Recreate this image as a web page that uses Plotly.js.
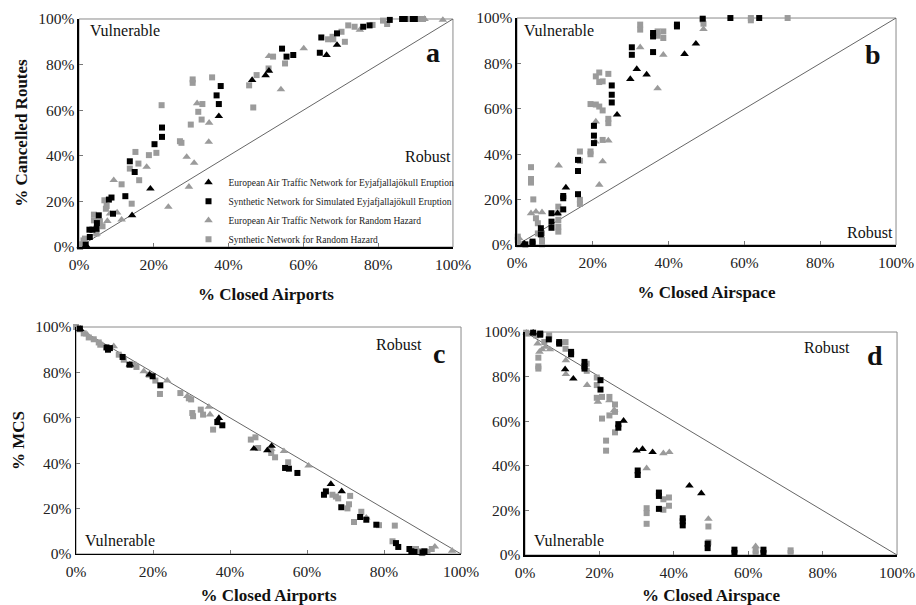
<!DOCTYPE html>
<html><head><meta charset="utf-8">
<script src="https://cdn.plot.ly/plotly-3.0.1.min.js"></script>
<style>html,body{margin:0;padding:0;background:#fff}#chart{width:916px;height:605px}</style>
</head><body><div id="chart"></div>
<script>
// ---- series names ----
const seriesNames = [
  'European Air Traffic Network for Eyjafjallajökull Eruption',
  'Synthetic Network for Simulated Eyjafjallajökull Eruption',
  'European Air Traffic Network for Random Hazard',
  'Synthetic Network for Random Hazard'
];
const tickVals = [0, 20, 40, 60, 80, 100];
const tickLabels = ['0%', '20%', '40%', '60%', '80%', '100%'];

// ---- reference diagonals ----
const diagUpX = [0, 100], diagUpY = [0, 100];
const diagDownX = [0, 100], diagDownY = [100, 0];

// ---- panel a: % closed airports vs % cancelled routes ----
const aEurEyjX = [1.9,14.2,19.1,37.4,46.3,49.9,50.8,66.2,69.0];
const aEurEyjY = [0.7,13.9,25.6,57.4,73.2,75.3,77.3,84.2,88.6];
const aSynEyjX = [1.8,2.9,2.8,3.6,4.7,4.8,5.3,8.0,8.7,9.1,12.4,13.6,14.9,20.2,22.2,22.2,36.8,37.4,37.9,54.3,55.5,57.3,64.4,64.8,69.0,76.0,77.7,83.1,86.4,87.1,89.3,89.8];
const aSynEyjY = [1.0,4.4,7.6,7.6,8.0,10.5,13.9,20.8,21.7,14.6,22.3,37.6,32.9,45.1,52.4,48.3,66.5,62.7,70.6,87.0,83.5,84.2,85.2,91.9,93.7,96.6,97.2,99.6,100,100,100,100];
const aEurRndX = [0.3,1.2,4.7,7.6,8.3,9.3,10.2,11.4,18.1,23.9,28.8,29.4,30.8,31.6,34.7,34.8,50.8,54.0,60.1,75.1,92.4,97.3];
const aEurRndY = [0.3,2.2,5.9,11.4,14.6,29.3,15.1,12.0,35.1,17.6,39.5,26.4,36.9,63.0,46.1,54.5,83.7,69.1,87.1,95.2,100,99.6];
const aSynRndX = [0.3,0.7,1.2,1.6,4.0,4.0,4.7,5.6,6.3,6.8,7.2,7.4,11.4,13.6,14.1,15.1,15.9,16.1,18.7,20.7,22.1,27.0,27.4,29.9,30.4,30.4,31.9,32.8,33.0,35.6,45.5,46.6,47.5,50.7,51.9,55.1,66.6,67.8,68.0,70.2,71.1,72.0,73.7,78.5,81.3,82.4,88.4,90.7,92.0];
const aSynRndY = [0,1.2,2.9,3.7,11.7,14.2,5.9,11.3,9.1,20.5,16.8,18.0,27.5,34.4,19.0,41.7,36.6,29.3,40.3,41.3,62.2,46.4,45.7,53.7,72.0,73.5,59.3,55.9,62.7,74.4,70.9,61.2,75.4,78.3,83.5,80.5,91.1,92.2,91.1,94.4,90.0,97.2,96.6,97.4,99.3,97.8,100,100,100];

// ---- panel b: % closed airspace vs % cancelled routes ----
const bEurEyjX = [1.9,10.7,12.9,26.4,29.9,31.6,34.2,44.2,47.2];
const bEurEyjY = [0.7,14.0,25.3,57.4,73.1,77.5,75.1,84.1,88.7];
const bSynEyjX = [2.2,4.1,4.1,6.3,6.3,9.1,9.1,9.1,12.2,12.2,12.2,16.1,16.1,16.1,20.3,20.3,20.3,25.0,25.0,25.0,30.3,30.3,35.9,35.9,35.9,42.2,42.2,49.0,56.3,63.9];
const bSynEyjY = [0.3,1.5,0.7,4.7,7.4,10.3,7.6,14.0,21.6,20.6,15.7,37.5,32.6,22.4,52.5,48.2,44.9,70.3,66.2,62.8,87.1,83.8,93.4,91.9,85.0,97.1,96.3,99.7,100,100];
const bEurRndX = [0.6,0.6,3.7,5.0,6.6,11.0,20.7,20.8,21.7,22.6,24.1,32.5,37.1,38.6,49.2];
const bEurRndY = [0.7,2.9,14.0,14.7,14.4,35.0,45.6,54.4,26.5,36.8,46.0,87.1,69.0,83.8,95.1];
const bSynRndX = [0.2,0.2,0.6,3.7,3.7,3.7,4.3,5.0,5.5,5.5,6.6,6.6,6.6,10.9,10.9,10.9,10.9,10.9,16.6,16.6,16.6,16.6,19.4,19.4,19.4,20.8,20.8,21.7,21.7,22.6,21.7,22.6,22.6,24.1,24.1,24.1,32.5,32.5,37.1,37.1,38.6,38.6,49.0,49.2,61.7,61.7,71.4];
const bSynRndY = [3.7,2.2,0.3,34.3,29.1,27.5,20.1,11.8,9.6,5.1,5.1,2.2,0.3,16.9,14.0,11.0,8.1,5.9,41.2,37.1,19.9,18.1,62.1,41.2,40.0,74.3,61.9,76.0,71.8,72.1,61.0,59.3,46.3,75.4,55.6,53.7,97.1,94.9,94.1,92.2,94.1,91.2,99.3,97.5,100,99.0,100];

// ---- panel c: % closed airports vs % MCS ----
const cEurEyjX = [1.1,14.0,19.1,37.1,46.2,49.7,50.8,66.2,69.0];
const cEurEyjY = [99.1,83.4,79.0,59.9,46.4,45.7,47.6,30.8,27.6];
const cSynEyjX = [1.0,7.9,8.3,8.8,12.1,13.9,19.9,21.9,36.7,38.0,54.3,55.3,57.5,64.4,64.9,68.9,73.8,75.4,78.0,83.1,83.7,86.6,87.1,87.9,90.0,90.5];
const cSynEyjY = [99.3,91.0,90.0,90.7,86.8,83.4,78.3,74.3,58.1,56.7,37.9,37.6,35.7,26.1,27.6,20.6,16.3,15.1,12.9,4.8,3.1,2.2,1.2,0.9,0.7,1.2];
const cEurRndX = [0.3,2.9,9.8,17.6,23.7,28.9,34.5,34.8,50.7,54.0,60.4,75.4,93.2,97.7];
const cEurRndY = [99.6,96.6,91.5,80.5,76.4,69.5,64.8,61.4,46.3,45.3,38.9,16.0,3.2,1.4];
const cSynRndX = [0,0.7,2.0,3.3,4.6,5.9,6.3,11.1,12.4,15.0,15.7,18.9,20.6,21.8,27.1,29.3,29.9,30.2,30.4,32.4,33.0,35.6,45.4,46.6,47.3,50.7,51.7,55.1,66.6,67.5,68.1,70.5,70.9,71.2,72.2,74.1,78.7,82.2,82.8,88.3,89.1,89.8,91.3,92.4];
const cSynRndY = [100,99.0,97.2,95.4,94.6,93.2,92.2,87.8,85.6,83.4,82.4,79.0,76.4,70.5,70.9,68.6,68.1,62.1,60.7,63.6,61.4,54.8,50.4,51.4,46.7,44.5,42.6,40.4,26.1,25.3,24.5,20.1,21.9,25.6,14.1,18.6,12.7,5.6,12.5,2.2,1.2,0.4,0.9,2.2];

// ---- panel d: % closed airspace vs % MCS ----
const dEurEyjX = [2.2,10.8,13.0,26.5,30.0,31.6,34.3,44.2,47.4];
const dEurEyjY = [99.7,83.3,79.1,60.2,46.8,47.5,46.1,31.1,27.7];
const dSynEyjX = [2.2,4.1,4.1,6.4,9.2,9.2,12.4,12.4,16.0,16.0,16.0,20.3,20.3,25.1,25.1,30.3,30.3,36.0,36.0,36.0,42.4,42.4,42.4,49.1,49.1,56.3,56.3,64.1,64.1];
const dSynEyjY = [99.7,99.3,98.8,96.7,95.5,94.8,91.1,90.0,86.6,84.6,83.6,78.4,74.2,58.7,57.1,37.9,35.9,28.0,26.5,20.7,16.5,15.1,13.3,5.1,3.1,2.4,0.9,2.4,0.9];
const dEurRndX = [0.4,3.4,3.9,4.6,5.5,6.7,11.0,11.0,16.7,19.6,22.7,24.0,32.7,37.2,38.8,49.3,62.0];
const dEurRndY = [99.7,94.8,91.1,92.2,93.3,92.2,87.3,81.1,76.2,68.7,69.4,65.0,38.9,45.6,46.1,16.2,3.9];
const dSynRndX = [0.3,0.7,3.0,3.6,3.6,3.6,5.2,6.5,6.5,10.9,10.9,16.6,16.6,19.3,19.3,19.3,20.7,20.7,21.8,21.8,22.7,22.7,24.2,24.2,24.2,32.7,32.7,32.7,37.2,37.2,38.7,38.7,49.3,49.3,62.0,62.0,71.4,71.4];
const dSynRndY = [99.7,99.3,98.5,88.5,84.6,83.6,95.5,98.5,97.0,95.5,92.5,85.8,82.6,79.6,76.2,70.5,70.9,61.2,51.3,46.8,70.9,62.6,67.5,64.2,55.0,21.0,18.8,14.0,25.0,20.3,25.8,22.1,12.8,5.7,2.1,0.6,2.1,0.9];

// ---- styling ----
const BLACK = '#000000', GRAY = '#9b9b9b';
const styles = [
  {symbol: 'triangle-up', color: BLACK, size: 7.5},
  {symbol: 'square', color: BLACK, size: 6},
  {symbol: 'triangle-up', color: GRAY, size: 7.5},
  {symbol: 'square', color: GRAY, size: 6}
];
const SERIF = 'Liberation Serif, Times New Roman, serif';

const panels = [
  {xa: 'x',  ya: 'y',  diag: [diagUpX, diagUpY],   data: [[aEurEyjX,aEurEyjY],[aSynEyjX,aSynEyjY],[aEurRndX,aEurRndY],[aSynRndX,aSynRndY]], legend: true},
  {xa: 'x2', ya: 'y2', diag: [diagUpX, diagUpY],   data: [[bEurEyjX,bEurEyjY],[bSynEyjX,bSynEyjY],[bEurRndX,bEurRndY],[bSynRndX,bSynRndY]]},
  {xa: 'x3', ya: 'y3', diag: [diagDownX, diagDownY], data: [[cEurEyjX,cEurEyjY],[cSynEyjX,cSynEyjY],[cEurRndX,cEurRndY],[cSynRndX,cSynRndY]]},
  {xa: 'x4', ya: 'y4', diag: [diagDownX, diagDownY], data: [[dEurEyjX,dEurEyjY],[dSynEyjX,dSynEyjY],[dEurRndX,dEurRndY],[dSynRndX,dSynRndY]]}
];

const traces = [];
const drawOrder = [3, 2, 1, 0];
panels.forEach(p => {
  traces.push({x: p.diag[0], y: p.diag[1], xaxis: p.xa, yaxis: p.ya, mode: 'lines',
    line: {color: '#555', width: 0.9}, showlegend: false, hoverinfo: 'skip'});
  drawOrder.forEach(i => {
    traces.push({
      x: p.data[i][0], y: p.data[i][1], xaxis: p.xa, yaxis: p.ya,
      mode: 'markers', type: 'scatter', name: seriesNames[i],
      showlegend: !!p.legend, legendrank: i + 1, cliponaxis: false,
      marker: {symbol: styles[i].symbol, color: styles[i].color, size: styles[i].size, line: {width: 0}}
    });
  });
});

function xAxis(domain, anchor, title) {
  return {domain: domain, anchor: anchor, range: [0, 100], tickvals: tickVals, ticktext: tickLabels,
    showgrid: false, zeroline: false, showline: true, linecolor: '#000', linewidth: 1.5,
    ticks: 'inside', ticklen: 4, tickcolor: '#777', tickwidth: 1, ticklabelstandoff: 3,
    tickfont: {family: SERIF, size: 15.5, color: '#222'},
    title: {text: title, font: {family: SERIF, size: 17, color: '#111', weight: 'bold'}, standoff: 16}};
}
function yAxis(domain, anchor, title) {
  const ax = {domain: domain, anchor: anchor, range: [0, 100], tickvals: tickVals, ticktext: tickLabels,
    showgrid: false, zeroline: false, showline: true, linecolor: '#000', linewidth: 1.5,
    ticks: 'inside', ticklen: 4, tickcolor: '#777', tickwidth: 1,
    tickfont: {family: SERIF, size: 15.5, color: '#222'}};
  if (title) ax.title = {text: title, font: {family: SERIF, size: 17, color: '#111', weight: 'bold'}, standoff: 6};
  return ax;
}

const frames = ['', '2', '3', '4'].map(s => ({type: 'rect', xref: 'x' + s + ' domain', yref: 'y' + s + ' domain',
  x0: 0, x1: 1, y0: 0, y1: 1, line: {color: '#8a8a8a', width: 1}, layer: 'below'}));

function lbl(x, y, text, size, bold, xanchor) {
  return {xref: 'paper', yref: 'paper', x: x, y: y, text: text, showarrow: false,
    xanchor: xanchor || 'center', yanchor: 'middle',
    font: {family: SERIF, size: size, color: '#111', weight: bold ? 'bold' : 'normal'}};
}

const layout = {
  width: 916, height: 605, margin: {l: 0, r: 0, t: 0, b: 0},
  paper_bgcolor: '#fff', plot_bgcolor: '#fff',
  xaxis:  xAxis([0.0862, 0.4945], 'y', '% Closed Airports'),
  yaxis:  yAxis([0.5917, 0.9686], 'x', '% Cancelled Routes'),
  xaxis2: xAxis([0.5644, 0.9782], 'y2', '% Closed Airspace'),
  yaxis2: yAxis([0.5950, 0.9702], 'x2'),
  xaxis3: xAxis([0.0830, 0.5033], 'y3', '% Closed Airports'),
  yaxis3: yAxis([0.0843, 0.4595], 'x3', '% MCS'),
  xaxis4: xAxis([0.5731, 0.9793], 'y4', '% Closed Airspace'),
  yaxis4: yAxis([0.0826, 0.4512], 'x4'),
  shapes: frames,
  showlegend: true,
  legend: {x: 0.2058, y: 0.7226, xanchor: 'left', yanchor: 'top', bgcolor: 'rgba(0,0,0,0)',
    font: {family: SERIF, size: 9.5, color: '#222'}, itemwidth: 30, tracegroupgap: 0, traceorder: 'normal'},
  annotations: [
    lbl(0.1365, 0.9504, 'Vulnerable', 16),
    lbl(0.4945, 0.7405, 'Robust', 16, false, 'right'),
    lbl(0.4727, 0.9140, 'a', 28, true),
    lbl(0.6103, 0.9504, 'Vulnerable', 16),
    lbl(0.9498, 0.6165, 'Robust', 16),
    lbl(0.9531, 0.9107, 'b', 28, true),
    lbl(0.1310, 0.1058, 'Vulnerable', 16),
    lbl(0.4356, 0.4298, 'Robust', 16),
    lbl(0.4793, 0.4150, 'c', 28, true),
    lbl(0.6212, 0.1058, 'Vulnerable', 16),
    lbl(0.9028, 0.4248, 'Robust', 16),
    lbl(0.9552, 0.4132, 'd', 28, true)
  ]
};

Plotly.newPlot('chart', traces, layout, {staticPlot: true});
</script></body></html>
